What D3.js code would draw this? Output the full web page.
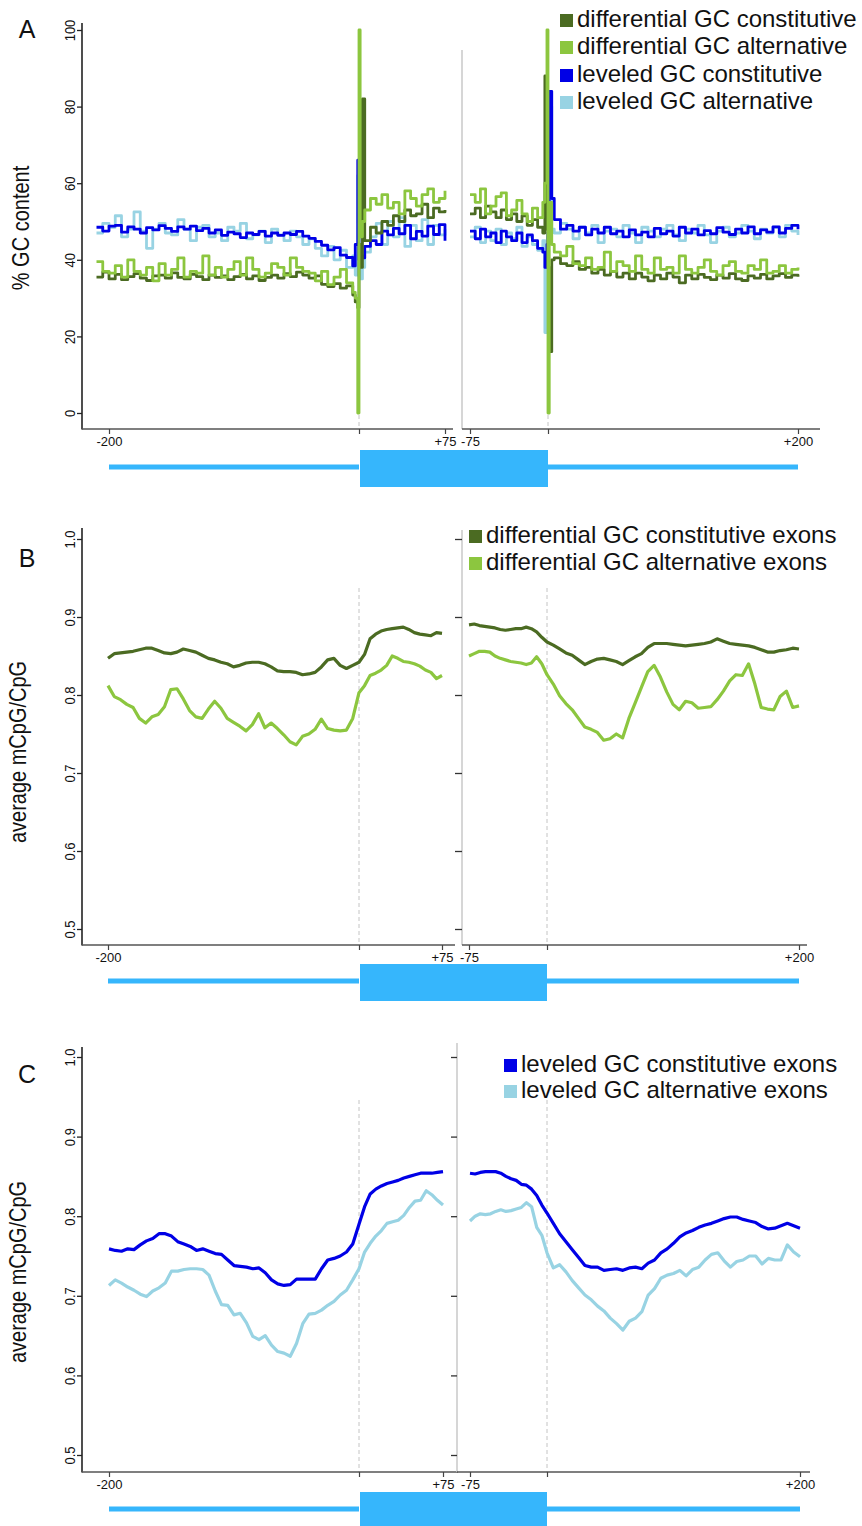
<!DOCTYPE html>
<html lang="en">
<head>
<meta charset="UTF-8">
<title>GC content and CpG methylation around exons</title>
<script src="https://cdnjs.cloudflare.com/ajax/libs/d3/7.8.5/d3.min.js"></script>
<style>
  body { margin: 0; background: #fff; font-family: 'Liberation Sans', Arial, Helvetica, sans-serif; }
  svg text { fill: #111; }
</style>
</head>
<body>
<svg id="chart"></svg>
<script>
// ---------- data ----------
// panel A: % GC content, position in bp (left = upstream of exon start, right = around exon end)
const aLeftPos = [-210,-205,-200,-195,-190,-185,-180,-175,-170,-165,-160,-155,-150,-145,-140,-135,-130,-125,-120,-115,
  -110,-105,-100,-95,-90,-85,-80,-75,-70,-65,-60,-55,-50,-45,-40,-35,-30,-25,-20,-15,-10,-5,
  -3,-1,0,1,3,5,10,15,20,25,30,35,40,45,50,55,60,65,70,75]
const aRightPos = [-75,-70,-65,-60,-55,-50,-45,-40,-35,-30,-25,-20,-15,-10,-5,-3,-1,0,1,3,
  5,10,15,20,25,30,35,40,45,50,55,60,65,70,75,80,85,90,95,100,105,110,115,120,125,130,135,140,145,150,
  155,160,165,170,175,180,185,190,195,200]

const aDiffConstL = [35.5,36.8,35.0,36.2,34.8,35.6,36.4,35.2,34.6,35.8, 36.0,35.2,36.6,35.4,35.0,36.2,35.6,34.8,36.0,35.4,
  35.8,34.8,35.6,36.2,35.0,35.8,34.6,35.4,36.0,35.2, 36.4,35.6,36.8,36.0,35.2,35.8,33.6,33.0,33.8,32.6,33.2,30.8,
  29.0,27.5,44.0,38.0,82.0, 45.0,48.5,47.0,50.0,49.0,51.5,50.0,53.0,51.5,52.0,54.5,51.0,53.5,52.5,53.0]
const aDiffAltL = [39.5,37.0,36.5,38.5,35.5,40.0,37.0,36.0,38.0,34.5, 39.0,36.0,37.5,40.5,35.5,37.0,36.5,41.0,36.0,38.0,
  35.5,37.5,39.5,36.0,40.5,37.5,35.5,36.5,39.0,38.0, 36.0,40.5,38.0,37.0,36.5,34.5,37.0,33.5,35.5,37.5,34.0,31.5,
  30.0,0.0,100.0,46.0,50.0, 53.0,56.0,54.5,57.0,53.5,55.0,52.0,58.0,56.0,54.0,57.0,58.5,55.0,56.0,58.0]
const aLevConstL = [48.5,47.5,48.8,49.0,47.2,48.6,48.0,47.0,48.4,47.8, 48.9,48.2,47.4,48.6,48.0,48.8,47.6,48.2,47.0,47.8,
  46.4,47.2,46.8,45.8,47.0,46.6,47.4,46.2,47.0,46.4, 47.0,46.6,47.4,46.2,45.6,44.8,43.8,42.6,43.2,41.2,40.6,38.4,
  44.0,66.0,40.0,41.0,40.5, 43.5,45.0,44.0,47.5,46.5,48.2,46.8,49.0,45.5,47.4,46.2,48.8,46.6,49.2,45.0]
const aLevAltL = [47.0,49.5,48.5,51.5,46.0,48.0,52.5,47.5,43.0,48.0, 49.5,47.0,46.5,50.5,48.0,45.0,48.5,49.0,46.0,47.0,
  45.0,48.5,47.5,49.5,45.5,46.5,47.5,44.5,48.0,46.5, 45.0,47.5,46.0,44.0,45.5,43.0,41.0,43.5,40.0,42.5,38.0,41.0,
  36.0,62.0,44.0,35.0,38.0, 42.0,46.0,49.5,44.0,50.0,46.0,51.0,43.5,49.0,45.0,50.5,44.0,49.0,46.5,48.0]

const aDiffConstR = [52.0,53.5,51.0,54.0,52.5,51.0,53.0,50.5,52.0,50.0,51.5,49.0,50.5,48.5,47.0,
  88.0,48.0,38.0,16.0,40.0,
  40.5,39.0,38.5,39.5,37.5,38.0,36.5,37.5,36.0,37.0, 35.5,36.5,35.0,36.5,35.5,34.5,36.0,35.0,36.5,35.5,
  34.0,36.0,35.0,36.2,35.4,34.8,36.0,35.2,36.4,35.0, 34.6,35.8,35.2,36.2,35.0,35.8,36.4,35.4,36.0,35.6]
const aDiffAltR = [57.0,55.0,58.5,52.0,54.0,56.5,57.5,51.5,53.0,55.5,52.0,50.0,53.5,51.0,55.0,
  60.0,100.0,0.0,55.0,44.0,
  42.0,41.0,43.5,39.0,38.5,40.5,37.5,38.0,42.0,37.0, 39.5,38.5,37.0,41.0,37.5,36.5,40.5,37.5,38.0,36.5,
  41.0,37.5,36.5,38.0,40.0,37.0,36.0,38.5,39.5,37.0, 36.5,38.5,37.5,40.0,36.5,37.0,38.5,36.5,37.5,38.0]
const aLevConstR = [47.5,45.5,48.0,46.0,47.0,44.5,47.5,46.0,45.0,47.0,44.5,46.5,45.0,43.0,42.0,
  38.0,44.0,47.0,84.0,56.0,
  50.5,48.0,49.0,47.5,48.5,46.5,48.0,47.0,48.5,46.8, 47.5,46.0,47.8,46.5,47.2,46.0,48.2,46.8,47.5,46.2,
  48.5,47.0,48.0,46.5,47.6,46.8,48.4,47.2,46.6,48.0, 47.0,48.6,46.8,47.8,47.2,48.6,47.0,48.2,49.0,48.0]
const aLevAltR = [46.0,48.5,44.5,47.5,45.0,48.0,44.0,47.0,45.5,48.5,43.5,46.0,44.0,42.5,45.0,
  21.0,42.0,46.0,80.0,48.0,
  47.0,49.5,48.0,45.5,48.5,47.0,49.0,44.5,47.5,48.0, 46.0,49.0,47.0,44.5,48.5,47.5,46.0,48.0,49.0,46.5,
  45.0,48.0,47.0,49.0,46.5,44.5,47.5,48.5,46.0,47.0, 49.0,47.5,45.5,48.0,47.0,48.5,46.0,49.0,47.5,46.5]

// panels B and C: average mCpG/CpG, every 5 bp
const mLeftPos = d3.range(-200, 76, 5)
const mRightPos = d3.range(-75, 201, 5)

const bDiffConstL = [0.847,0.853,0.854,0.855,0.856,0.858,0.860,0.860,0.857,0.854,0.853,0.855,0.859,0.857,0.855,0.851,
  0.847,0.845,0.842,0.840,0.836,0.838,0.841,0.842,0.842,0.840,0.836,0.831,0.830,0.830,0.829,0.826,0.827,0.829,0.836,
  0.845,0.847,0.838,0.834,0.838,0.842, 0.852,0.872,0.878,0.882,0.884,0.885,0.886,0.887,0.884,0.880,0.878,0.877,0.876,0.880,0.879]
const bDiffAltL = [0.812,0.798,0.794,0.788,0.784,0.770,0.764,0.772,0.775,0.785,0.807,0.808,0.795,0.780,0.772,0.770,
  0.782,0.792,0.783,0.770,0.765,0.760,0.754,0.762,0.776,0.758,0.764,0.757,0.749,0.740,0.736,0.747,0.750,0.756,0.769,
  0.757,0.755,0.754,0.755,0.770,0.803, 0.812,0.825,0.828,0.832,0.838,0.850,0.847,0.843,0.842,0.840,0.837,0.832,0.829,0.821,0.825]
const bDiffConstR = [0.890,0.891,0.889,0.888,0.887,0.886,0.884,0.883,0.884,0.885,0.885,0.887,0.885,0.881,0.874,0.868,
  0.864,0.859,0.854,0.851,0.845,0.839,0.843,0.846,0.847,0.845,0.843,0.839,0.844,0.849,0.853,0.861,0.866,0.866,0.866,0.865,
  0.864,0.863,0.864,0.865,0.866,0.868,0.872,0.869,0.866,0.865,0.864,0.863,0.861,0.858,0.855,0.855,0.857,0.858,0.860,0.859]
const bDiffAltR = [0.850,0.853,0.856,0.856,0.855,0.850,0.847,0.845,0.843,0.842,0.841,0.839,0.841,0.849,0.840,0.826,
  0.814,0.799,0.789,0.781,0.770,0.759,0.756,0.752,0.742,0.744,0.750,0.745,0.770,0.790,0.810,0.830,0.838,0.823,0.804,0.788,
  0.781,0.792,0.790,0.783,0.784,0.785,0.794,0.805,0.818,0.826,0.825,0.840,0.814,0.784,0.782,0.781,0.798,0.805,0.784,0.786]

const cLevConstL = [0.759,0.757,0.756,0.759,0.758,0.764,0.769,0.772,0.778,0.778,0.775,0.768,0.765,0.762,0.757,0.759,
  0.756,0.753,0.752,0.745,0.738,0.737,0.736,0.734,0.735,0.729,0.720,0.715,0.713,0.714,0.721,0.721,0.721,0.721,0.734,
  0.745,0.747,0.750,0.755,0.765,0.790, 0.812,0.828,0.834,0.838,0.841,0.843,0.845,0.848,0.850,0.852,0.854,0.854,0.854,0.855,0.856]
const cLevAltL = [0.713,0.720,0.716,0.711,0.707,0.702,0.699,0.706,0.710,0.716,0.731,0.731,0.733,0.734,0.734,0.733,
  0.726,0.706,0.689,0.688,0.676,0.678,0.666,0.649,0.645,0.650,0.638,0.630,0.628,0.624,0.640,0.665,0.677,0.678,0.682,
  0.688,0.693,0.701,0.707,0.720,0.734, 0.755,0.766,0.775,0.782,0.791,0.793,0.795,0.801,0.811,0.819,0.820,0.832,0.827,0.820,0.814]
const cLevConstR = [0.854,0.853,0.855,0.856,0.856,0.856,0.854,0.850,0.847,0.845,0.840,0.839,0.834,0.826,0.814,0.804,
  0.791,0.778,0.768,0.758,0.748,0.738,0.736,0.736,0.732,0.733,0.734,0.732,0.735,0.736,0.734,0.741,0.745,0.754,0.759,0.766,
  0.774,0.779,0.782,0.786,0.789,0.791,0.794,0.797,0.799,0.799,0.796,0.794,0.792,0.787,0.784,0.785,0.788,0.791,0.788,0.785]
const cLevAltR = [0.794,0.800,0.803,0.802,0.803,0.806,0.808,0.806,0.807,0.809,0.811,0.817,0.812,0.786,0.776,0.754,
  0.735,0.739,0.730,0.719,0.710,0.701,0.695,0.687,0.681,0.672,0.665,0.657,0.668,0.672,0.680,0.701,0.709,0.722,0.726,0.728,
  0.732,0.725,0.733,0.736,0.745,0.752,0.754,0.744,0.736,0.743,0.745,0.750,0.750,0.740,0.747,0.745,0.745,0.764,0.755,0.749]

const gcTicks = [0, 20, 40, 60, 80, 100]
const methTicks = [0.5, 0.6, 0.7, 0.8, 0.9, 1.0]
const leftXTicks = [-200, 0, 75]
const rightXTicks = [-75, 0, 200]
const xTickLabel = {'-200': '-200', '75': '+75', '-75': '-75', '200': '+200'}

const colors = {diffConst: '#4b6b22', diffAlt: '#8cc63f', levConst: '#0000e6', levAlt: '#98d3e3'}
const exonColor = '#36b6fc'
const FONT = "'Liberation Sans', Arial, sans-serif"

// ---------- drawing ----------
const svg = d3.select('#chart').attr('width', 862).attr('height', 1526)

const zip = (xs, ys) => xs.map((x, i) => [x, ys[i]])

function drawPanel(p) {
    const g = svg.append('g')

    // dashed exon boundaries
    ;[p.xL, p.xR].forEach(sc => {
        g.append('line')
            .attr('x1', sc(0)).attr('x2', sc(0))
            .attr('y1', p.dashTop).attr('y2', p.axisY)
            .attr('stroke', '#c4c4c4').attr('stroke-width', 1)
            .attr('stroke-dasharray', '4,3')
    })

    // lines
    const lineL = d3.line().x(d => p.xL(d[0])).y(d => p.y(d[1])).curve(p.curve)
    const lineR = d3.line().x(d => p.xR(d[0])).y(d => p.y(d[1])).curve(p.curve)
    p.series.forEach(s => {
        g.append('path').datum(zip(s.lpos, s.left))
            .attr('d', lineL).attr('fill', 'none').attr('stroke', s.color)
            .attr('stroke-width', p.lw).attr('stroke-linejoin', 'round')
        g.append('path').datum(zip(s.rpos, s.right))
            .attr('d', lineR).attr('fill', 'none').attr('stroke', s.color)
            .attr('stroke-width', p.lw).attr('stroke-linejoin', 'round')
    })

    // axis lines
    g.append('line').attr('x1', 82).attr('x2', 82).attr('y1', p.leftTop).attr('y2', p.axisY + 0.5)
        .attr('stroke', '#222').attr('stroke-width', 1.6)
    g.append('line').attr('x1', 82).attr('x2', p.leftXEnd).attr('y1', p.axisY).attr('y2', p.axisY)
        .attr('stroke', '#555').attr('stroke-width', 1.5)
    g.append('line').attr('x1', p.rightAxisX).attr('x2', p.rightAxisX).attr('y1', p.rightTop).attr('y2', p.axisY)
        .attr('stroke', '#c8c8c8').attr('stroke-width', 1.5)
    g.append('line').attr('x1', p.rightAxisX).attr('x2', p.rightXEnd).attr('y1', p.axisY).attr('y2', p.axisY)
        .attr('stroke', '#555').attr('stroke-width', 1.5)

    // y ticks, labels rotated (and slightly stretched like the source figure)
    const ya = g.append('g').attr('transform', 'translate(82,0)')
        .call(d3.axisLeft(p.y).tickValues(p.yTicks).tickSize(5).tickFormat(p.yFmt))
    ya.select('.domain').remove()
    ya.selectAll('.tick line').attr('stroke', '#222').attr('stroke-width', 1.3)
    ya.selectAll('.tick text')
        .attr('transform', 'translate(-7.5,0) scale(1.18,1) rotate(-90)')
        .attr('x', 0).attr('y', 0).attr('dy', 0)
        .attr('text-anchor', 'middle')
        .style('font-family', FONT).style('font-size', '13px')

    if (p.rightTicks) {
        const yr = g.append('g').attr('transform', 'translate(' + p.rightAxisX + ',0)')
            .call(d3.axisLeft(p.y).tickValues(p.yTicks).tickSize(p.rightTickLen).tickFormat(''))
        yr.select('.domain').remove()
        yr.selectAll('.tick line').attr('stroke', '#333').attr('stroke-width', 1.3)
    }

    // x ticks
    ;[[p.xL, leftXTicks], [p.xR, rightXTicks]].forEach(([sc, tv]) => {
        const xa = g.append('g').attr('transform', 'translate(0,' + p.axisY + ')')
            .call(d3.axisBottom(sc).tickValues(tv).tickSize(5).tickPadding(3)
                .tickFormat(d => xTickLabel[d] || ''))
        xa.select('.domain').remove()
        xa.selectAll('.tick line').attr('stroke', '#444').attr('stroke-width', 1.2)
        xa.selectAll('.tick text').style('font-family', FONT).style('font-size', '13px')
    })

    // panel letter and y label
    g.append('text').attr('x', 27).attr('y', p.letterY).attr('text-anchor', 'middle')
        .style('font-size', '25px').text(p.letter)
    g.append('text')
        .attr('transform', 'translate(' + p.ylabelX + ',' + p.ylabelY + ') scale(1.18,1) rotate(-90)')
        .attr('text-anchor', 'middle').style('font-size', '20px').text(p.ylabel)

    // legend
    p.legend.items.forEach((it, i) => {
        const by = p.legend.baselines[i]
        g.append('rect').attr('x', p.legend.x).attr('y', by - 13).attr('width', 13).attr('height', 13)
            .attr('fill', it.color)
        g.append('text').attr('x', p.legend.x + 17).attr('y', by)
            .style('font-size', '24px').text(it.label)
    })

    // exon schematic
    const ex = g.append('g')
    ex.append('rect').attr('x', p.xL(-200)).attr('width', p.xL(0) - p.xL(-200))
        .attr('y', p.exonY - 2.5).attr('height', 5).attr('fill', exonColor)
    ex.append('rect').attr('x', p.xL(0) + 1).attr('width', p.xR(0) - p.xL(0) - 1)
        .attr('y', p.exonY - 17).attr('height', 37).attr('fill', exonColor)
    ex.append('rect').attr('x', p.xR(0)).attr('width', p.xR(200) - p.xR(0))
        .attr('y', p.exonY - 2.5).attr('height', 5).attr('fill', exonColor)
}

// Panel A
drawPanel({
    letter: 'A', letterY: 38,
    ylabel: '% GC content', ylabelX: 29, ylabelY: 228,
    y: d3.scaleLinear().domain([0, 100]).range([413, 30]),
    yTicks: gcTicks, yFmt: d3.format('d'),
    xL: d3.scaleLinear().domain([-200, 0, 75]).range([109, 359, 445]),
    xR: d3.scaleLinear().domain([-75, 0, 200]).range([470, 548, 798]),
    axisY: 429, leftTop: 23, rightTop: 50, rightAxisX: 462,
    leftXEnd: 453, rightXEnd: 820, rightTicks: false,
    dashTop: 30,
    curve: d3.curveStepAfter, lw: 2.8,
    series: [
        {color: colors.levAlt, lpos: aLeftPos, left: aLevAltL, rpos: aRightPos, right: aLevAltR},
        {color: colors.levConst, lpos: aLeftPos, left: aLevConstL, rpos: aRightPos, right: aLevConstR},
        {color: colors.diffConst, lpos: aLeftPos, left: aDiffConstL, rpos: aRightPos, right: aDiffConstR},
        {color: colors.diffAlt, lpos: aLeftPos, left: aDiffAltL, rpos: aRightPos, right: aDiffAltR}
    ],
    legend: {x: 560, baselines: [27, 54, 82, 109], items: [
        {color: colors.diffConst, label: 'differential GC constitutive'},
        {color: colors.diffAlt, label: 'differential GC alternative'},
        {color: colors.levConst, label: 'leveled GC constitutive'},
        {color: colors.levAlt, label: 'leveled GC alternative'}
    ]},
    exonY: 467
})

// Panel B
drawPanel({
    letter: 'B', letterY: 567,
    ylabel: 'average mCpG/CpG', ylabelX: 26, ylabelY: 752,
    y: d3.scaleLinear().domain([0.5, 1.0]).range([929, 539]),
    yTicks: methTicks, yFmt: d3.format('.1f'),
    xL: d3.scaleLinear().domain([-200, 0, 75]).range([108, 359, 442]),
    xR: d3.scaleLinear().domain([-75, 0, 200]).range([469, 547, 799]),
    axisY: 945, leftTop: 528, rightTop: 530, rightAxisX: 462,
    leftXEnd: 455, rightXEnd: 807, rightTicks: true, rightTickLen: 7,
    dashTop: 588,
    curve: d3.curveLinear, lw: 3.2,
    series: [
        {color: colors.diffConst, lpos: mLeftPos, left: bDiffConstL, rpos: mRightPos, right: bDiffConstR},
        {color: colors.diffAlt, lpos: mLeftPos, left: bDiffAltL, rpos: mRightPos, right: bDiffAltR}
    ],
    legend: {x: 469, baselines: [543, 570], items: [
        {color: colors.diffConst, label: 'differential GC constitutive exons'},
        {color: colors.diffAlt, label: 'differential GC alternative exons'}
    ]},
    exonY: 981
})

// Panel C
drawPanel({
    letter: 'C', letterY: 1083,
    ylabel: 'average mCpG/CpG', ylabelX: 26, ylabelY: 1272,
    y: d3.scaleLinear().domain([0.5, 1.0]).range([1455, 1057]),
    yTicks: methTicks, yFmt: d3.format('.1f'),
    xL: d3.scaleLinear().domain([-200, 0, 75]).range([109, 359, 443]),
    xR: d3.scaleLinear().domain([-75, 0, 200]).range([470, 547, 800]),
    axisY: 1472, leftTop: 1047, rightTop: 1043, rightAxisX: 457,
    leftXEnd: 458, rightXEnd: 810, rightTicks: true, rightTickLen: 6,
    dashTop: 1100,
    curve: d3.curveLinear, lw: 3.2,
    series: [
        {color: colors.levConst, lpos: mLeftPos, left: cLevConstL, rpos: mRightPos, right: cLevConstR},
        {color: colors.levAlt, lpos: mLeftPos, left: cLevAltL, rpos: mRightPos, right: cLevAltR}
    ],
    legend: {x: 504, baselines: [1072, 1098], items: [
        {color: colors.levConst, label: 'leveled GC constitutive exons'},
        {color: colors.levAlt, label: 'leveled GC alternative exons'}
    ]},
    exonY: 1509
})
</script>
</body>
</html>
